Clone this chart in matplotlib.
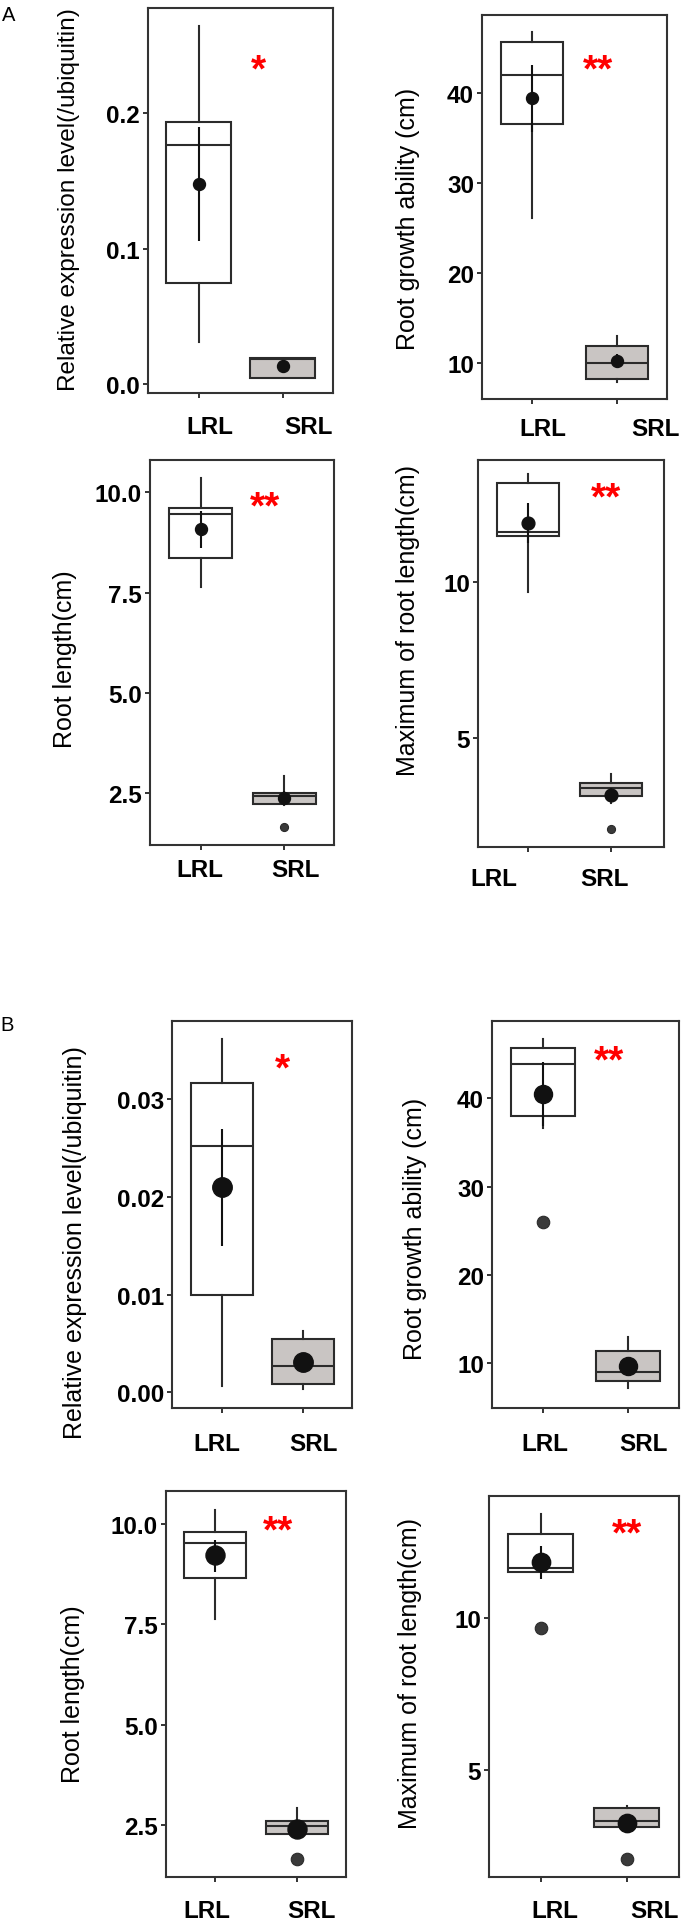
import numpy as np
import matplotlib
matplotlib.use('Agg')
import matplotlib.pyplot as plt

plt.rcParams['font.family'] = ['Liberation Sans', 'DejaVu Sans']

W, H = 685, 1924
DPI = 100
PT = 72.0 / DPI  # points per pixel

groups = ['LRL', 'SRL']

# ---- data: [whislo, q1, med, q3, whishi] per group ----
a1_box = [[0.031, 0.0745, 0.1764, 0.1934, 0.2642], [0.0046, 0.0046, 0.0185, 0.019, 0.019]]
a1_mean = [0.1476, 0.013]
a1_err = [[0.1055, 0.1897], [0.010, 0.016]]
a1_out = [[], []]
a1_ticks = [0.0, 0.1, 0.2]
a1_ticklabels = ['0.0', '0.1', '0.2']

a2_box = [[26.1, 36.62, 42.0, 45.74, 46.79], [7.92, 8.25, 10.0, 11.93, 12.97]]
a2_mean = [39.44, 10.19]
a2_err = [[35.7, 43.15], [9.4, 11.0]]
a2_out = [[], []]
a2_ticks = [10, 20, 30, 40]
a2_ticklabels = ['10', '20', '30', '40']

a3_box = [[7.64, 8.36, 9.445, 9.61, 10.34], [2.2, 2.23, 2.44, 2.52, 2.92]]
a3_mean = [9.07, 2.38]
a3_err = [[8.6, 9.54], [2.2, 2.55]]
a3_out = [[], [1.65]]
a3_ticks = [2.5, 5.0, 7.5, 10.0]
a3_ticklabels = ['2.5', '5.0', '7.5', '10.0']

a4_box = [[9.67, 11.45, 11.6, 13.17, 13.44], [2.9, 3.11, 3.37, 3.53, 3.83]]
a4_mean = [11.89, 3.16]
a4_err = [[11.25, 12.53], [2.95, 3.37]]
a4_out = [[], [2.06]]
a4_ticks = [5, 10]
a4_ticklabels = ['5', '10']

b1_box = [[0.00057, 0.010, 0.02519, 0.03167, 0.03617], [0.0003, 0.00085, 0.00266, 0.00544, 0.0063]]
b1_mean = [0.0210, 0.00307]
b1_err = [[0.0150, 0.02696], [0.0025, 0.0036]]
b1_out = [[], []]
b1_ticks = [0.00, 0.01, 0.02, 0.03]
b1_ticklabels = ['0.00', '0.01', '0.02', '0.03']

b2_box = [[36.68, 38.0, 43.84, 45.73, 46.67], [7.17, 7.96, 9.05, 11.43, 12.94]]
b2_mean = [40.53, 9.73]
b2_err = [[36.9, 44.1], [9.0, 10.4]]
b2_out = [[26.0], []]
b2_ticks = [10, 20, 30, 40]
b2_ticklabels = ['10', '20', '30', '40']

b3_box = [[7.64, 8.64, 9.53, 9.79, 10.35], [2.29, 2.29, 2.49, 2.61, 2.93]]
b3_mean = [9.21, 2.42]
b3_err = [[8.8, 9.6], [2.25, 2.6]]
b3_out = [[], [1.66]]
b3_ticks = [2.5, 5.0, 7.5, 10.0]
b3_ticklabels = ['2.5', '5.0', '7.5', '10.0']

b4_box = [[11.54, 11.54, 11.68, 12.79, 13.45], [3.10, 3.10, 3.29, 3.72, 3.81]]
b4_mean = [11.85, 3.24]
b4_err = [[11.30, 12.40], [3.05, 3.45]]
b4_out = [[9.67], [2.03]]
b4_ticks = [5, 10]
b4_ticklabels = ['5', '10']

ylab_expr = 'Relative expression level(/ubiquitin)'
ylab_rga = 'Root growth ability (cm)'
ylab_rl = 'Root length(cm)'
ylab_max = 'Maximum of root length(cm)'


def px2fig(x, y):
	return x / W, 1 - y / H


fig = plt.figure(figsize=(W / DPI, H / DPI), dpi=DPI)
fig.patch.set_facecolor('white')

# layout (pixels): axes rect, x of the two boxes, box width, y-limits,
# y label (right edge, centre), x labels, stars, marker sizes
panels = [
	dict(box=a1_box, mean=a1_mean, err=a1_err, out=a1_out, ticks=a1_ticks, tl=a1_ticklabels,
		 rect=(148, 9, 333, 394), xs=(198.5, 282.5), bw=65, ylim=(-0.0066, 0.2775),
		 ylab=ylab_expr, ylpos=(80, 200), ylfs=17.6, xl=((210, 427), (308, 427)),
		 star='*', spos=(258, 59), ms=8.6, fs=5.8),
	dict(box=a2_box, mean=a2_mean, err=a2_err, out=a2_out, ticks=a2_ticks, tl=a2_ticklabels,
		 rect=(482, 16, 667, 400), xs=(532, 617), bw=62, ylim=(6.0, 48.71),
		 ylab=ylab_rga, ylpos=(420, 218.5), ylfs=18, xl=((542.7, 429), (655, 429)),
		 star='**', spos=(598, 59), ms=8.6, fs=5.8),
	dict(box=a3_box, mean=a3_mean, err=a3_err, out=a3_out, ticks=a3_ticks, tl=a3_ticklabels,
		 rect=(150, 461, 334, 846), xs=(200.7, 284), bw=63, ylim=(1.214, 10.80),
		 ylab=ylab_rl, ylpos=(77, 659), ylfs=18, xl=((200, 871), (295, 871)),
		 star='**', spos=(265, 496), ms=8.6, fs=5.8),
	dict(box=a4_box, mean=a4_mean, err=a4_err, out=a4_out, ticks=a4_ticks, tl=a4_ticklabels,
		 rect=(478, 461, 664, 848), xs=(528, 611), bw=62, ylim=(1.49, 13.90),
		 ylab=ylab_max, ylpos=(420, 621), ylfs=18, xl=((494, 880), (604, 880)),
		 star='**', spos=(606, 487), ms=9.2, fs=5.8),
	dict(box=b1_box, mean=b1_mean, err=b1_err, out=b1_out, ticks=b1_ticks, tl=b1_ticklabels,
		 rect=(172, 1022, 352, 1409), xs=(221.7, 302.7), bw=62, ylim=(-0.00164, 0.03805),
		 ylab=ylab_expr, ylpos=(87, 1242.5), ylfs=18, xl=((216.7, 1445), (313, 1445)),
		 star='*', spos=(282, 1058), ms=14, fs=9),
	dict(box=b2_box, mean=b2_mean, err=b2_err, out=b2_out, ticks=b2_ticks, tl=b2_ticklabels,
		 rect=(492, 1022, 679, 1409), xs=(543.3, 627.7), bw=64, ylim=(4.95, 48.74),
		 ylab=ylab_rga, ylpos=(427, 1228.5), ylfs=18, xl=((545, 1445), (643, 1445)),
		 star='**', spos=(609, 1050), ms=13, fs=9),
	dict(box=b3_box, mean=b3_mean, err=b3_err, out=b3_out, ticks=b3_ticks, tl=b3_ticklabels,
		 rect=(166, 1492, 346, 1878), xs=(215, 296.7), bw=62, ylim=(1.22, 10.81),
		 ylab=ylab_rl, ylpos=(85, 1694), ylfs=18, xl=((206.7, 1912), (311.7, 1912)),
		 star='**', spos=(278, 1520), ms=13.7, fs=9),
	dict(box=b4_box, mean=b4_mean, err=b4_err, out=b4_out, ticks=b4_ticks, tl=b4_ticklabels,
		 rect=(489, 1497, 679, 1878), xs=(540.7, 626.7), bw=65, ylim=(1.445, 14.05),
		 ylab=ylab_max, ylpos=(422, 1673.5), ylfs=18, xl=((555, 1912), (654, 1912)),
		 star='**', spos=(627, 1523), ms=13.2, fs=9),
]

edge = '#2b2b2b'
face = ['white', '#c9c5c3']

for p in panels:
	l, t, r, b = p['rect']
	ax = fig.add_axes([l / W, 1 - b / H, (r - l) / W, (b - t) / H])
	xL, xS = p['xs']
	u = xS - xL

	stats = []
	for g, bx, out in zip(groups, p['box'], p['out']):
		stats.append(dict(whislo=bx[0], q1=bx[1], med=bx[2], q3=bx[3], whishi=bx[4],
						  fliers=out, label=g))
	res = ax.bxp(stats, positions=[0, 1], widths=p['bw'] / u, patch_artist=True,
				 showcaps=False,
				 boxprops=dict(linewidth=1.5, edgecolor=edge),
				 whiskerprops=dict(linewidth=1.5, color=edge),
				 medianprops=dict(linewidth=1.5, color=edge),
				 flierprops=dict(marker='o', markersize=p['fs'], markerfacecolor='#3a3a3a',
								 markeredgecolor='#2b2b2b', markeredgewidth=0.8))
	for bx, fc in zip(res['boxes'], face):
		bx.set_facecolor(fc)

	for i in range(2):
		lo, hi = p['err'][i]
		m = p['mean'][i]
		ax.errorbar([i], [m], yerr=[[m - lo], [hi - m]], fmt='o', color='#111111',
					ms=p['ms'], elinewidth=1.5, capsize=0, zorder=5)

	ax.set_xlim(-(xL - l) / u, 1 + (r - xS) / u)
	ax.set_ylim(*p['ylim'])
	ax.set_yticks(p['ticks'])
	ax.set_yticklabels(p['tl'], fontsize=17.5, fontweight='bold')
	ax.set_xticks([0, 1])
	ax.set_xticklabels(['', ''])
	ax.tick_params(direction='out', length=5 * PT, width=1.4, color='#333333', pad=3 * PT)
	for s in ax.spines.values():
		s.set_linewidth(1.5)
		s.set_color('#333333')

	# group labels under each tick, shifted like the original
	for i, g in enumerate(groups):
		cx, cy = p['xl'][i]
		ax.annotate(g, xy=px2fig(cx, cy), xycoords='figure fraction', ha='center',
					va='center', fontsize=17.5, fontweight='bold')

	ax.set_ylabel(p['ylab'], fontsize=p['ylfs'])
	ax.yaxis.set_label_coords(*px2fig(*p['ylpos']), transform=fig.transFigure)

	sx, sy = p['spos']
	fig.text(*px2fig(sx, sy + 22.6), p['star'], color='red', fontsize=28,
			 fontweight='bold', ha='center', va='baseline')

fig.text(*px2fig(2, 21), 'A', fontsize=14.5, ha='left', va='baseline')
fig.text(*px2fig(0, 1031), 'B', fontsize=14.5, ha='left', va='baseline')

fig.savefig('out.png', dpi=DPI, facecolor='white')
